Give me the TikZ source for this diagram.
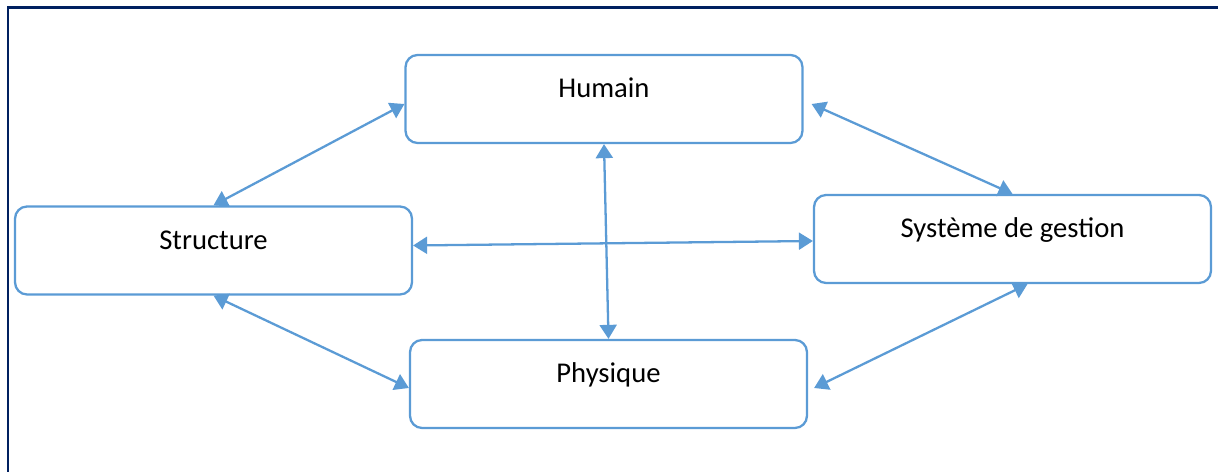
\documentclass[tikz,border=0pt]{standalone}
\usepackage{fontspec}
\setmainfont{Carlito}
\usepackage{xcolor}
\usetikzlibrary{arrows.meta}

\definecolor{boxblue}{RGB}{91,155,213}
\definecolor{framenavy}{RGB}{0,32,96}

\begin{document}
\begin{tikzpicture}[x=0.02cm,y=-0.02cm,
    every node/.style={font=\fontsize{16.3}{19.6}\selectfont},
    bloc/.style={draw=boxblue, line width=1.3pt, rounded corners=0.24cm,
        minimum width=7.94cm, inner sep=0pt, text height=0.86cm, text depth=0.9cm},
    lien/.style={draw=boxblue, line width=1.3pt,
        {Triangle[length=0.28cm,width=0.34cm]}-{Triangle[length=0.28cm,width=0.34cm]}}]
\useasboundingbox (0,0) rectangle (1218,472);
\begin{scope}
    \clip (0,0) rectangle (1218,472);
    \draw[framenavy, line width=1.7pt] (8,8) rectangle (1260,520);
\end{scope}

    \node[bloc] (hum) at (604,99) {Humain};
    \node[bloc] (str) at (213.5,250.5) {Structure};
    \node[bloc] (sys) at (1012.5,239) {Système de gestion};
    \node[bloc] (phy) at (608.5,384) {Physique};

    % draw the arrows
    \draw[lien] (str.north) -- ([yshift=-0.1cm]hum.west);
    \draw[lien] ([xshift=0.16cm,yshift=-0.1cm]hum.east) -- (sys.north);
    \draw[lien] (hum.south) -- (phy.north);
    \draw[lien] ([yshift=0.1cm]str.east) -- ([yshift=-0.04cm]sys.west);
    \draw[lien] (str.south) -- ([yshift=-0.08cm]phy.west);
    \draw[lien] ([xshift=0.3cm]sys.south) -- ([xshift=0.12cm,yshift=-0.08cm]phy.east);

\end{tikzpicture}
\end{document}
